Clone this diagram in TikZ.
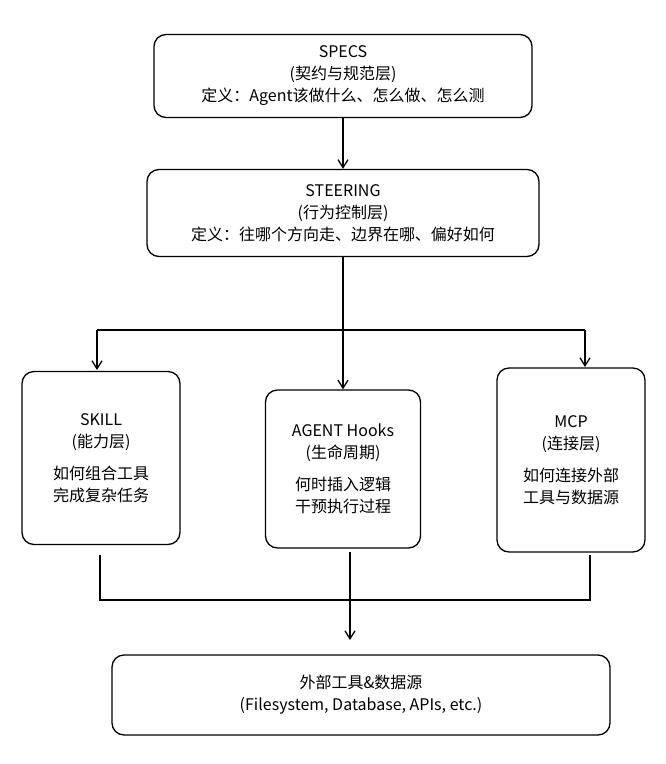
\documentclass[tikz,border=0pt]{standalone}
\usepackage{fontspec}
\setmainfont{Noto Sans CJK SC}
\usetikzlibrary{arrows.meta}
\tikzset{
  box/.style={draw, line width=1.3pt, rounded corners=12pt, align=center, inner sep=2pt, font=\fontsize{16}{22}\selectfont},
  link/.style={line width=1.3pt},
  arr/.style={line width=1.3pt, -{Straight Barb[length=8pt,width=10pt]}}
}
\begin{document}
\begin{tikzpicture}[x=1pt,y=-1pt]
\useasboundingbox (0,0) rectangle (666,764);
\node[box, minimum width=378pt, minimum height=83pt] (specs) at (343,76) {SPECS\\(契约与规范层)\\定义：Agent该做什么、怎么做、怎么测};
\node[box, minimum width=392pt, minimum height=87pt] (steer) at (343,213) {STEERING\\(行为控制层)\\定义：往哪个方向走、边界在哪、偏好如何};
\node[box, minimum width=158pt, minimum height=173pt] (skill) at (101,458) {SKILL\\(能力层)\\[10pt]如何组合工具\\完成复杂任务};
\node[box, minimum width=155pt, minimum height=158pt] (hooks) at (343,469) {AGENT Hooks\\(生命周期)\\[10pt]何时插入逻辑\\干预执行过程};
\node[box, minimum width=148pt, minimum height=184pt] (mcp) at (571,460) {MCP\\(连接层)\\[10pt]如何连接外部\\工具与数据源};
\node[box, minimum width=498pt, minimum height=80pt] (ext) at (361,695) {外部工具\&数据源\\(Filesystem, Database, APIs, etc.)};
% top chain
\draw[arr] (specs.south) -- (steer.north);
\coordinate (split) at (343,330);
\coordinate (sl) at (97,330);
\coordinate (sr) at (585,330);
\draw[link] (steer.south) -- (split);
\draw[link] (sl) -- (sr);
\draw[arr] (sl) -- (97,370);
\draw[arr] (split) -- (hooks.north);
\draw[arr] (sr) -- (585,367);
% bottom merge
\coordinate (ml) at (100,600);
\coordinate (mm) at (350,600);
\coordinate (mr) at (590,600);
\draw[link] (100,555) -- (ml) -- (mr) -- (590,555);
\draw[arr] (350,552) -- (350,640);
\end{tikzpicture}
\end{document}
